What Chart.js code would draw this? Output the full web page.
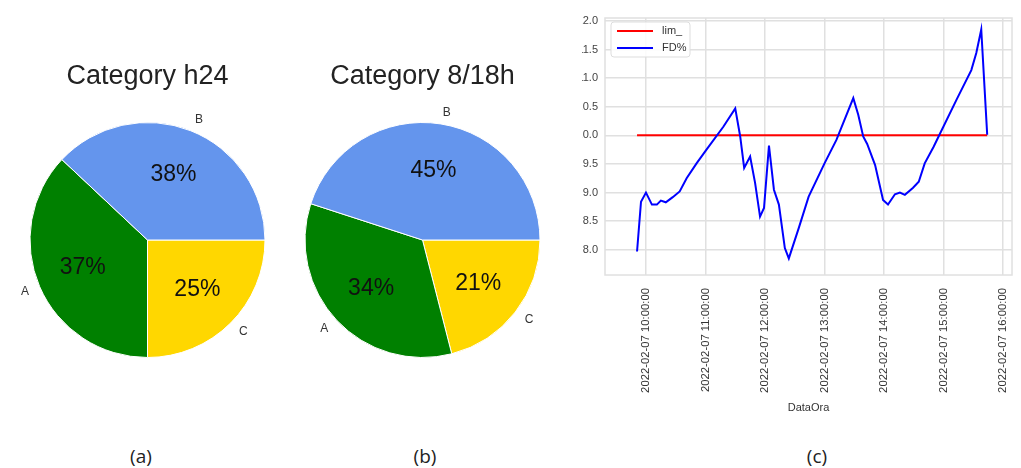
<!DOCTYPE html>
<html>
<head>
<meta charset="utf-8">
<script src="https://cdn.jsdelivr.net/npm/chart.js@4.4.1/dist/chart.umd.min.js"></script>
<style>
  html, body { margin: 0; padding: 0; background: #fff; width: 1021px; height: 468px; overflow: hidden; }
  canvas { position: absolute; top: 0; }
  .cap { position: absolute; top: 443px; width: 60px; line-height: 26px; text-align: center;
         font: 19px "Open Sans", "Liberation Sans", sans-serif; color: #222; }
</style>
</head>
<body>
<canvas id="pie1" width="285" height="420" style="left:0px"></canvas>
<canvas id="pie2" width="285" height="420" style="left:285px"></canvas>
<canvas id="line" width="439" height="417" style="left:582px"></canvas>
<div class="cap" style="left:111px">(a)</div>
<div class="cap" style="left:395px">(b)</div>
<div class="cap" style="left:787px">(c)</div>

<script>
// ---- pie data ----
const categories = ['A', 'B', 'C'];
const shareH24 = [37, 38, 25];
const share818 = [34, 45, 21];
const sliceColors = ['#008000', '#6495ED', '#FFD700'];
// slices go clockwise from 3 o'clock: C, A, B
const sliceOrder = [2, 0, 1];

// ---- time series data (time of day, value) ----
const times = ['09:51', '09:55', '10:00', '10:06', '10:11', '10:15', '10:20', '10:27', '10:34', '10:41',
               '10:51', '11:01', '11:18', '11:30', '11:35', '11:39', '11:45', '11:50', '11:55', '11:59',
               '12:04', '12:09', '12:14', '12:20', '12:24', '12:34', '12:44', '13:00', '13:12', '13:29',
               '13:34', '13:39', '13:43', '13:51', '13:59', '14:04', '14:11', '14:16', '14:21', '14:29',
               '14:35', '14:41', '14:50', '14:55', '15:13', '15:28', '15:33', '15:38', '15:44'];
const fdValues = [7.97, 8.84, 9.00, 8.79, 8.79, 8.86, 8.83, 8.92, 9.02, 9.25,
                  9.51, 9.75, 10.15, 10.47, 9.98, 9.43, 9.63, 9.17, 8.58, 8.73,
                  9.82, 9.05, 8.79, 8.03, 7.85, 8.38, 8.93, 9.51, 9.92, 10.65,
                  10.36, 9.98, 9.85, 9.48, 8.87, 8.79, 8.97, 9.00, 8.96, 9.08,
                  9.19, 9.51, 9.80, 9.98, 10.62, 11.14, 11.44, 11.85, 10.01];
const limTimes = ['09:51', '15:44'];
const limValues = [10.0, 10.0];
const xTickLabels = ['2022-02-07 10:00:00', '2022-02-07 11:00:00', '2022-02-07 12:00:00',
                     '2022-02-07 13:00:00', '2022-02-07 14:00:00', '2022-02-07 15:00:00',
                     '2022-02-07 16:00:00'];
const yTicks = [8.0, 8.5, 9.0, 9.5, 10.0, 10.5, 11.0, 11.5, 12.0];

const FONT = '"Liberation Sans", Arial, sans-serif';
Chart.defaults.font.family = FONT;

function toMinutes(hhmm) {
  const [h, m] = hhmm.split(':').map(Number);
  return h * 60 + m;
}

// percentage inside each slice, category name just outside it
const pieLabels = {
  id: 'pieLabels',
  afterDatasetsDraw(chart) {
    const ctx = chart.ctx;
    const meta = chart.getDatasetMeta(0);
    const ds = chart.data.datasets[0];
    meta.data.forEach((arc, i) => {
      const p = arc.getProps(['x', 'y', 'startAngle', 'endAngle', 'outerRadius'], true);
      const mid = (p.startAngle + p.endAngle) / 2;
      const c = Math.cos(mid), s = Math.sin(mid);
      ctx.save();
      ctx.textBaseline = 'middle';
      ctx.fillStyle = '#111';
      ctx.font = '23px ' + FONT;
      ctx.textAlign = 'center';
      ctx.fillText(ds.data[i] + '%', p.x + c * p.outerRadius * 0.6, p.y + s * p.outerRadius * 0.6);
      ctx.fillStyle = '#333';
      ctx.font = '12px ' + FONT;
      ctx.textAlign = c >= 0 ? 'left' : 'right';
      ctx.fillText(chart.data.labels[i], p.x + c * p.outerRadius * 1.1, p.y + s * p.outerRadius * 1.1);
      ctx.restore();
    });
  }
};

function pieConfig(title, values, padLeft, padRight) {
  return {
    type: 'pie',
    data: {
      labels: sliceOrder.map(i => categories[i]),
      datasets: [{
        data: sliceOrder.map(i => values[i]),
        backgroundColor: sliceOrder.map(i => sliceColors[i]),
        borderColor: '#ffffff',
        borderWidth: 1,
        hoverOffset: 0
      }]
    },
    options: {
      responsive: false,
      animation: false,
      rotation: 90,
      layout: { padding: { left: padLeft, right: padRight, top: 0, bottom: 62 } },
      plugins: {
        legend: { display: false },
        tooltip: { enabled: false },
        title: {
          display: true, text: title, color: '#222',
          font: { size: 27, weight: 'normal', family: FONT },
          padding: { top: 60.8, bottom: 28.8 }
        }
      }
    },
    plugins: [pieLabels]
  };
}

new Chart(document.getElementById('pie1'), pieConfig('Category h24', shareH24, 29.5, 19.5));
new Chart(document.getElementById('pie2'), pieConfig('Category 8/18h', share818, 19.5, 29.5));

// ---- line chart helpers ----
const GRID = '#e0e0e0';

const plotFrame = {
  id: 'plotFrame',
  beforeDatasetsDraw(chart) {
    const { ctx, chartArea: a } = chart;
    ctx.save();
    ctx.strokeStyle = GRID;
    ctx.lineWidth = 1.5;
    ctx.strokeRect(a.left, a.top, a.right - a.left, a.bottom - a.top);
    ctx.restore();
  }
};

const insideLegend = {
  id: 'insideLegend',
  afterDatasetsDraw(chart) {
    const { ctx, chartArea: a } = chart;
    const x0 = a.left + 6, y0 = a.top + 4, w = 79, h = 35;
    ctx.save();
    ctx.fillStyle = 'rgba(255,255,255,0.85)';
    ctx.strokeStyle = '#dddddd';
    ctx.lineWidth = 1;
    ctx.beginPath();
    ctx.roundRect(x0, y0, w, h, 3);
    ctx.fill();
    ctx.stroke();
    chart.data.datasets.forEach((ds, i) => {
      const y = a.top + 13 + i * 17;
      ctx.strokeStyle = ds.borderColor;
      ctx.lineWidth = 2;
      ctx.beginPath();
      ctx.moveTo(a.left + 12, y);
      ctx.lineTo(a.left + 48, y);
      ctx.stroke();
      ctx.fillStyle = '#333';
      ctx.font = '11px ' + FONT;
      ctx.textAlign = 'left';
      ctx.textBaseline = 'middle';
      ctx.fillText(ds.label, a.left + 57, y);
    });
    ctx.restore();
  }
};

new Chart(document.getElementById('line'), {
  type: 'line',
  data: {
    datasets: [
      {
        label: 'lim_',
        data: limTimes.map((t, i) => ({ x: toMinutes(t), y: limValues[i] })),
        borderColor: '#ff0000', borderWidth: 2, order: 1
      },
      {
        label: 'FD%',
        data: times.map((t, i) => ({ x: toMinutes(t), y: fdValues[i] })),
        borderColor: '#0000ff', borderWidth: 2, order: 0
      }
    ]
  },
  options: {
    responsive: false,
    animation: false,
    layout: { padding: { top: 18, right: 9, left: 0, bottom: 0 } },
    elements: { point: { radius: 0 }, line: { tension: 0, fill: false } },
    plugins: { legend: { display: false }, tooltip: { enabled: false } },
    scales: {
      x: {
        type: 'linear',
        min: 558.7,
        max: 969,
        afterBuildTicks(scale) {
          scale.ticks = xTickLabels.map(l => ({ value: toMinutes(l.slice(11, 16)) }));
        },
        afterFit(scale) {
          scale.height = 142;
          scale.paddingLeft = 0;
          scale.paddingRight = 0;
        },
        ticks: {
          autoSkip: false, minRotation: 90, maxRotation: 90, padding: 13,
          color: '#333', font: { size: 11.3 },
          callback: (v, i) => xTickLabels[i]
        },
        grid: { color: GRID, lineWidth: 1.5, drawTicks: false },
        border: { display: false },
        title: {
          display: true, text: 'DataOra', color: '#333',
          font: { size: 11 }, padding: { top: 0, bottom: 2.4 }
        }
      },
      y: {
        min: 7.56,
        max: 12.05,
        afterBuildTicks(scale) {
          scale.ticks = yTicks.map(v => ({ value: v }));
        },
        afterFit(scale) {
          scale.width = 23;
          scale.paddingTop = 0;
          scale.paddingBottom = 0;
        },
        ticks: { padding: 7, color: '#444', font: { size: 11 }, callback: v => v.toFixed(1) },
        grid: { color: GRID, lineWidth: 1.5, drawTicks: false },
        border: { display: false }
      }
    }
  },
  plugins: [plotFrame, insideLegend]
});
</script>
</body>
</html>
